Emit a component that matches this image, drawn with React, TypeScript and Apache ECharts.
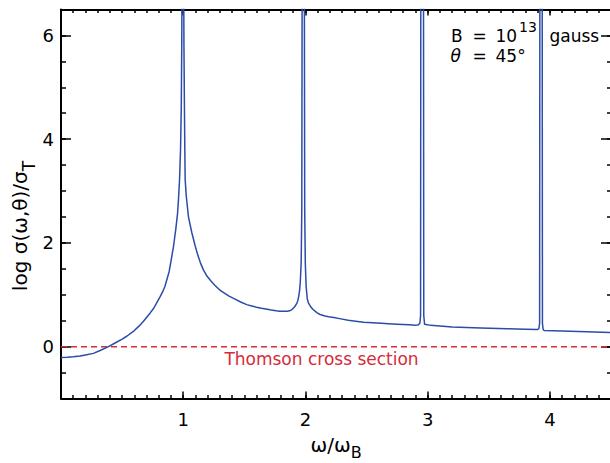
import React, { useEffect, useRef } from "react";
import * as echarts from "echarts";

// ---- data: [omega/omega_B, log sigma/sigma_T] ----
const crossSection: [number, number][] = [
  [0, -0.21], [0.05, -0.205], [0.1, -0.195], [0.156, -0.18], [0.2, -0.16], [0.265, -0.13], [0.32, -0.075],
  [0.388, 0.0], [0.45, 0.08], [0.5, 0.145], [0.538, 0.2], [0.6, 0.31], [0.64, 0.4], [0.675, 0.49], [0.73, 0.65],
  [0.76, 0.745], [0.784, 0.85], [0.81, 0.96], [0.83, 1.05], [0.85, 1.16], [0.866, 1.29], [0.885, 1.45],
  [0.9, 1.65], [0.921, 1.94], [0.94, 2.28], [0.954, 2.58], [0.961, 2.83], [0.97, 3.22], [0.978, 3.8],
  [0.984, 4.6], [0.988, 5.8], [0.99, 7.0], [1.004, 7.0], [1.006, 5.8], [1.01, 4.6], [1.013, 3.8], [1.016, 3.22],
  [1.025, 2.9], [1.043, 2.5], [1.07, 2.2], [1.098, 1.94], [1.12, 1.76], [1.14, 1.62], [1.165, 1.48],
  [1.194, 1.36], [1.225, 1.27], [1.26, 1.18], [1.295, 1.1], [1.33, 1.04], [1.375, 0.975], [1.42, 0.92],
  [1.47, 0.86], [1.52, 0.81], [1.56, 0.785], [1.6, 0.76], [1.64, 0.74], [1.686, 0.72], [1.72, 0.705],
  [1.76, 0.69], [1.79, 0.683], [1.822, 0.68], [1.85, 0.682], [1.87, 0.69], [1.89, 0.715], [1.904, 0.75],
  [1.918, 0.79], [1.93, 0.84], [1.938, 0.89], [1.945, 0.97], [1.952, 1.08], [1.958, 1.25], [1.965, 1.62],
  [1.97, 2.6], [1.973, 7.0], [1.991, 7.0], [1.994, 2.6], [1.999, 1.6], [2.006, 1.15], [2.015, 0.92],
  [2.025, 0.84], [2.04, 0.78], [2.06, 0.72], [2.096, 0.65], [2.12, 0.62], [2.16, 0.59], [2.19, 0.575],
  [2.232, 0.56], [2.29, 0.535], [2.35, 0.51], [2.41, 0.49], [2.478, 0.47], [2.55, 0.46], [2.62, 0.45],
  [2.68, 0.44], [2.75, 0.43], [2.85, 0.42], [2.9, 0.41], [2.925, 0.42], [2.937, 0.46], [2.942, 0.6],
  [2.944, 7.0], [2.966, 7.0], [2.968, 0.6], [2.975, 0.43], [3.025, 0.41], [3.2, 0.38], [3.434, 0.36],
  [3.65, 0.345], [3.8, 0.335], [3.9, 0.33], [3.91, 0.35], [3.916, 0.45], [3.918, 7.0], [3.937, 7.0],
  [3.939, 0.45], [3.945, 0.33], [3.953, 0.31], [4.1, 0.3], [4.3, 0.285], [4.5, 0.27],
];
const thomsonLevel = 0;
const xRange = [0, 4.5];
const yRange = [-1, 6.5];
const xMajorTicks = [0, 1, 2, 3, 4];
const xTickLabels = [1, 2, 3, 4];
const yMajorTicks = [0, 2, 4, 6];
const yTickLabels = [0, 2, 4, 6];
const xMinorStep = 0.1;
const yMinorStep = 0.5;

const FONT = "'DejaVu Sans', sans-serif";
const BLUE = "#2b4ca8";
const RED = "#d62b3b";
const INK = "#000";

function xAxisDef(position: "bottom" | "top", major: boolean, tickLen: number, labels: boolean) {
  const ax: any = {
    type: "value",
    position,
    min: xRange[0],
    max: xRange[1],
    axisLine: { show: !major, onZero: false, lineStyle: { color: INK, width: 2 } },
    axisTick: { show: true, inside: true, length: tickLen, lineStyle: { color: INK, width: 1.5 } },
    axisLabel: { show: false },
    splitLine: { show: false },
  };
  if (major) {
    ax.axisTick.customValues = xMajorTicks;
    if (labels) {
      ax.axisLabel = {
        show: true,
        customValues: xTickLabels,
        margin: 12,
        fontSize: 18,
        fontFamily: FONT,
        color: INK,
      };
    }
  } else {
    ax.interval = xMinorStep;
  }
  return ax;
}

function yAxisDef(position: "left" | "right", major: boolean, tickLen: number, labels: boolean) {
  const ax: any = {
    type: "value",
    position,
    min: yRange[0],
    max: yRange[1],
    axisLine: { show: !major, onZero: false, lineStyle: { color: INK, width: 2 } },
    axisTick: { show: true, inside: true, length: tickLen, lineStyle: { color: INK, width: 1.5 } },
    axisLabel: { show: false },
    splitLine: { show: false },
  };
  if (major) {
    ax.axisTick.customValues = yMajorTicks;
    if (labels) {
      ax.axisLabel = {
        show: true,
        customValues: yTickLabels,
        margin: 7,
        fontSize: 18,
        fontFamily: FONT,
        color: INK,
      };
    }
  } else {
    ax.interval = yMinorStep;
  }
  return ax;
}

function txt(text: string, x: number, y: number, size: number, extra: any = {}) {
  return {
    type: "text",
    x,
    y,
    z: 10,
    style: {
      text,
      fontSize: size,
      fontFamily: FONT,
      fill: INK,
      align: "left",
      verticalAlign: "middle",
      ...extra,
    },
  };
}

export default function App() {
  const ref = useRef<HTMLDivElement>(null);
  useEffect(() => {
    const chart = echarts.init(ref.current!, null, { renderer: "svg" });
    const option: any = {
      animation: false,
      backgroundColor: "#fff",
      grid: { left: 61, right: -1, top: 9.5, bottom: 64.5, containLabel: false, outerBoundsMode: "none" },
      xAxis: [
        xAxisDef("bottom", false, 3.5, false),
        xAxisDef("bottom", true, 7, true),
        xAxisDef("top", false, 3.5, false),
        xAxisDef("top", true, 6, false),
      ],
      yAxis: [
        yAxisDef("left", false, 5, false),
        yAxisDef("left", true, 10, true),
        yAxisDef("right", false, 4, false),
        yAxisDef("right", true, 10, false),
      ],
      series: [
        {
          type: "line",
          xAxisIndex: 0,
          yAxisIndex: 0,
          data: [
            [xRange[0], thomsonLevel],
            [xRange[1], thomsonLevel],
          ],
          showSymbol: false,
          silent: true,
          z: 1,
          lineStyle: { color: RED, width: 1.5, type: [6, 4] },
        },
        {
          type: "line",
          xAxisIndex: 0,
          yAxisIndex: 0,
          data: crossSection,
          showSymbol: false,
          clip: true,
          z: 2,
          lineStyle: { color: BLUE, width: 1.5, join: "round" },
        },
      ],
      graphic: [
        txt("Thomson cross section", 321.5, 358.5, 17, { fill: RED, align: "center" }),
        txt("B", 451, 35.5, 17),
        txt("=", 472.5, 35.5, 17),
        txt("10", 495.5, 35.5, 17),
        txt("13", 519, 26.5, 14),
        txt("gauss", 549.5, 35.5, 17),
        txt("θ", 450.5, 55.5, 17, { fontStyle: "italic" }),
        txt("=", 472.5, 55.5, 17),
        txt("45°", 495.5, 55.5, 17),
        {
          type: "text",
          x: 336,
          y: 445,
          z: 10,
          style: {
            text: "ω/ω{sub|B}",
            fontSize: 20,
            fontFamily: FONT,
            fill: INK,
            align: "center",
            verticalAlign: "middle",
            rich: { sub: { fontSize: 16, fontFamily: FONT, padding: [14, 0, 0, 0] } },
          },
        },
        {
          type: "text",
          x: 20,
          y: 226,
          rotation: Math.PI / 2,
          z: 10,
          style: {
            text: "log σ(ω,θ)/σ{sub|T}",
            fontSize: 20,
            fontFamily: FONT,
            fill: INK,
            align: "center",
            verticalAlign: "middle",
            rich: { sub: { fontSize: 17, fontFamily: FONT, padding: [18, 0, 0, 0] } },
          },
        },
      ],
    };
    chart.setOption(option);
    return () => chart.dispose();
  }, []);
  return (
    <div
      ref={ref}
      style={{ position: "absolute", left: 0, top: 0, width: 610, height: 463, background: "#fff" }}
    />
  );
}
